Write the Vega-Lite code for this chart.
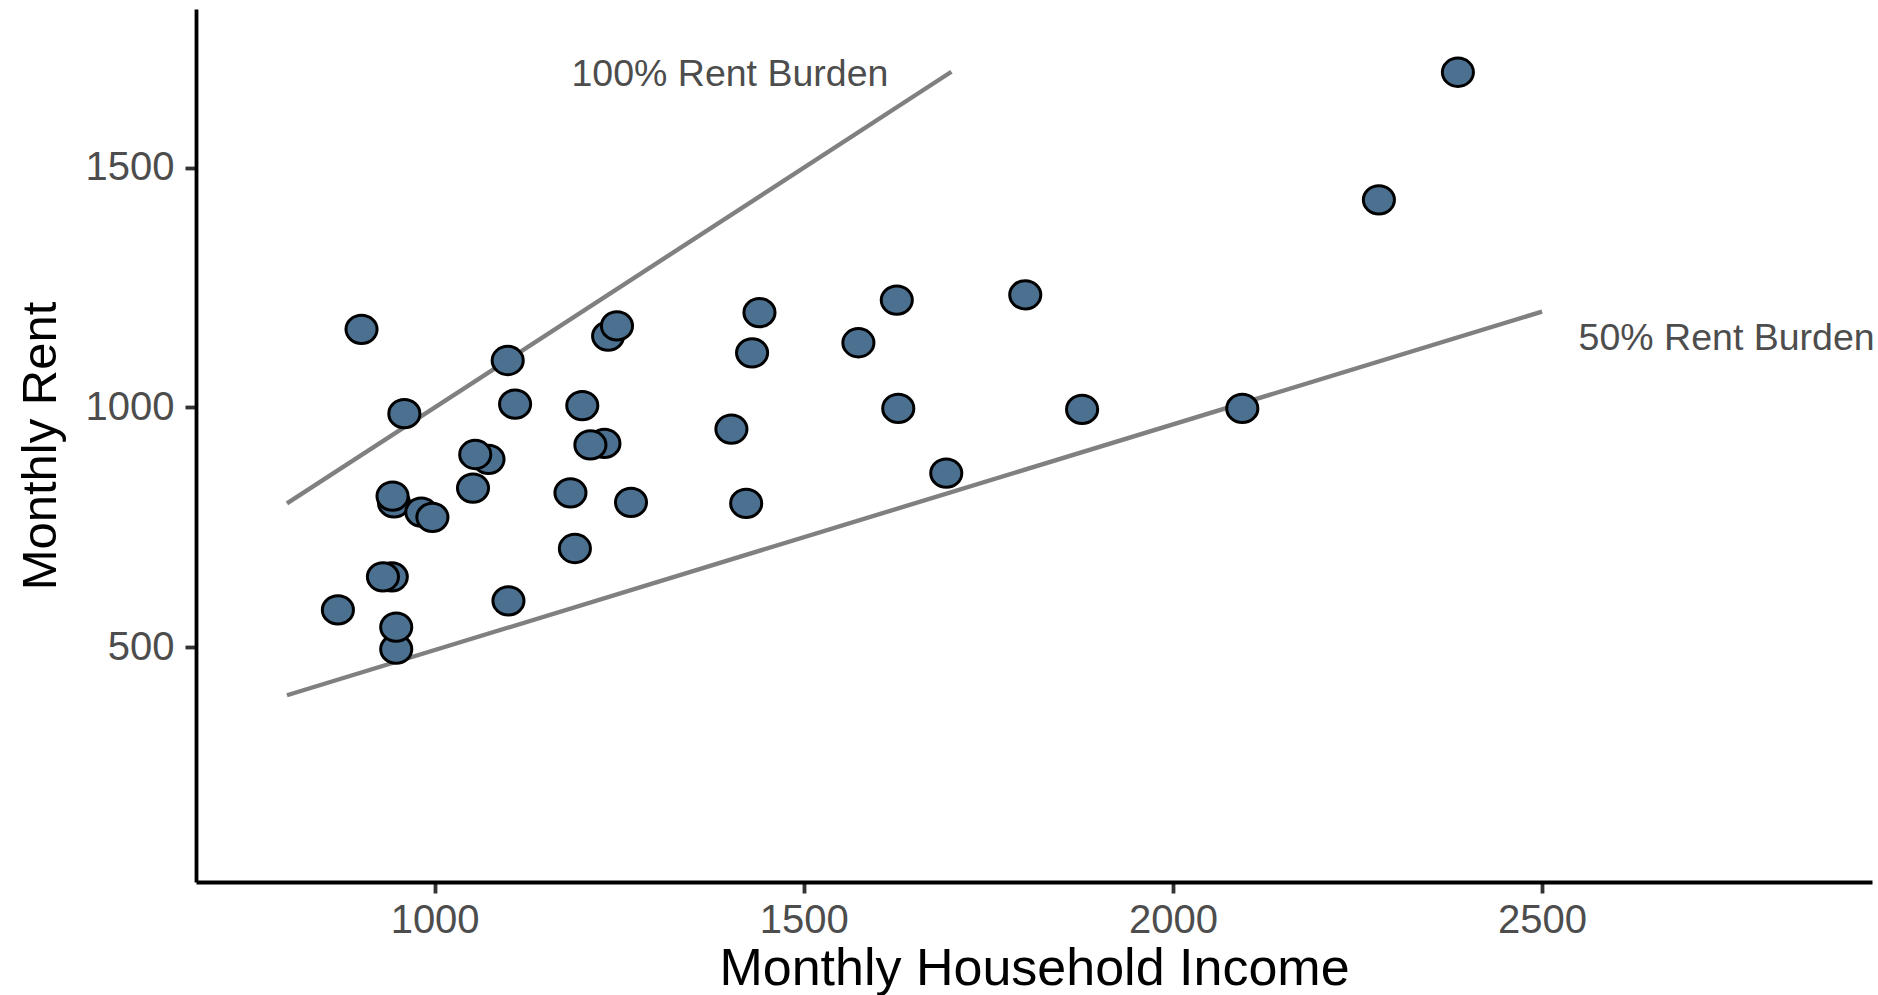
{
  "$schema": "https://vega.github.io/schema/vega-lite/v6.json",
  "width": 1676,
  "height": 873,
  "autosize": {"type": "none"},
  "padding": {"left": 196, "top": 9, "right": 6, "bottom": 113},
  "background": "white",
  "config": {
    "view": {"stroke": null},
    "font": "Liberation Sans",
    "axis": {
      "grid": false,
      "domainColor": "#000000",
      "domainWidth": 3.8,
      "tickColor": "#333333",
      "tickWidth": 3.8,
      "tickSize": 11,
      "labelFont": "Liberation Sans",
      "labelFontSize": 40,
      "labelColor": "#4D4D4D",
      "titleFont": "Liberation Sans",
      "titleFontWeight": "normal",
      "titleColor": "#000000"
    }
  },
  "datasets": {
    "households": [
      {"income": 901, "rent": 1163},
      {"income": 1099, "rent": 1098},
      {"income": 959, "rent": 987},
      {"income": 1109, "rent": 1007},
      {"income": 1200, "rent": 1004},
      {"income": 1235, "rent": 1149},
      {"income": 1247, "rent": 1170},
      {"income": 1073, "rent": 892},
      {"income": 1055, "rent": 902},
      {"income": 1052, "rent": 832},
      {"income": 945, "rent": 801},
      {"income": 943, "rent": 815},
      {"income": 982, "rent": 782},
      {"income": 997, "rent": 771},
      {"income": 1230, "rent": 925},
      {"income": 1211, "rent": 922},
      {"income": 1184, "rent": 822},
      {"income": 1266, "rent": 802},
      {"income": 1402, "rent": 955},
      {"income": 1190, "rent": 706},
      {"income": 942, "rent": 647},
      {"income": 930, "rent": 647},
      {"income": 869, "rent": 578},
      {"income": 1100, "rent": 597},
      {"income": 948, "rent": 496},
      {"income": 948, "rent": 542},
      {"income": 1440, "rent": 1198},
      {"income": 1430, "rent": 1114},
      {"income": 1574, "rent": 1135},
      {"income": 1626, "rent": 1224},
      {"income": 1800, "rent": 1235},
      {"income": 1628, "rent": 998},
      {"income": 1877, "rent": 996},
      {"income": 1422, "rent": 800},
      {"income": 1693, "rent": 863},
      {"income": 2094, "rent": 998},
      {"income": 2279, "rent": 1433},
      {"income": 2386, "rent": 1699}
    ],
    "burden": [
      {"line": "100%", "income": 800, "rent": 800},
      {"line": "100%", "income": 1700, "rent": 1700},
      {"line": "50%", "income": 800, "rent": 400},
      {"line": "50%", "income": 2500, "rent": 1200}
    ],
    "labels": [
      {"label": "100% Rent Burden", "income": 1400, "rent": 1700},
      {"label": "50% Rent Burden", "income": 2750, "rent": 1150}
    ]
  },
  "encoding": {
    "x": {
      "field": "income",
      "type": "quantitative",
      "scale": {"domain": [676.8, 2946.9], "nice": false, "zero": false},
      "axis": {"values": [1000, 1500, 2000, 2500], "format": "d", "title": "Monthly Household Income", "titleFontSize": 52, "labelPadding": 7, "titlePadding": 3}
    },
    "y": {
      "field": "rent",
      "type": "quantitative",
      "scale": {"domain": [10.6, 1830.9], "nice": false, "zero": false},
      "axis": {"values": [500, 1000, 1500], "format": "d", "title": "Monthly Rent", "titleFontSize": 49, "labelPadding": 11, "titlePadding": 20}
    }
  },
  "layer": [
    {
      "data": {"name": "burden"},
      "mark": {"type": "line", "color": "#808080", "strokeWidth": 4.4, "clip": false},
      "encoding": {"detail": {"field": "line"}}
    },
    {
      "data": {"name": "households"},
      "mark": {
        "type": "point",
        "shape": "M-1.1,0A1.1,1,0,1,1,1.1,0A1.1,1,0,1,1,-1.1,0Z",
        "filled": true,
        "fill": "#4B7090",
        "stroke": "#000000",
        "strokeWidth": 3,
        "size": 800,
        "opacity": 1
      }
    },
    {
      "data": {"name": "labels"},
      "mark": {"type": "text", "fontSize": 37.5, "color": "#4D4D4D", "baseline": "middle", "align": "center", "dy": 3, "font": "Liberation Sans", "clip": false},
      "encoding": {"text": {"field": "label"}}
    }
  ]
}
